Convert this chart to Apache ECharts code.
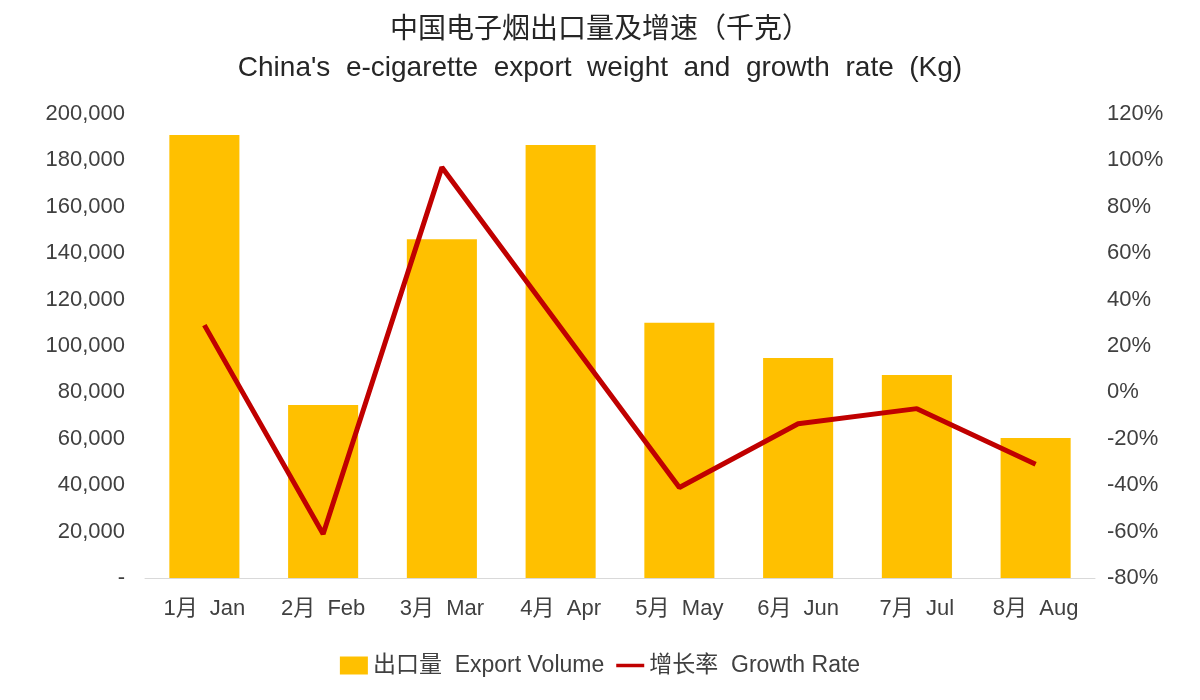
<!DOCTYPE html>
<html><head><meta charset="utf-8">
<script src="https://cdn.jsdelivr.net/npm/echarts@6/dist/echarts.min.js"></script>
<style>html,body{margin:0;background:#fff}#c{width:1200px;height:700px}</style>
</head><body><div id="c"></div>
<script>
const categories=['1月  Jan','2月  Feb','3月  Mar','4月  Apr','5月  May','6月  Jun','7月  Jul','8月  Aug'];
const exportVolume=[191000,74600,146000,186600,110000,94800,87500,60300];
const growthRate=[29,-61,97,28,-41,-13.5,-7,-31];
const font='"Liberation Sans","Noto Sans CJK SC",sans-serif';
const chart=echarts.init(document.getElementById('c'));
chart.setOption({
  animation:false,
  textStyle:{fontFamily:font},
  title:{text:'中国电子烟出口量及增速（千克）\nChina\'s  e-cigarette  export  weight  and  growth  rate  (Kg)',left:'center',top:6,
    textStyle:{fontSize:28,fontWeight:'normal',color:'#262626',lineHeight:38,fontFamily:font}},
  legend:{bottom:18,itemGap:12,textStyle:{fontSize:23,color:'#404040'},
    data:[{name:'出口量  Export Volume',icon:'rect'},{name:'增长率  Growth Rate',icon:'path://M0,0 L40,0 L40,5 L0,5 Z'}],itemWidth:28,itemHeight:18},
  grid:{left:145,right:105,top:114,bottom:122},
  xAxis:{type:'category',data:categories,axisTick:{show:false},axisLine:{lineStyle:{color:'#d9d9d9'}},
    axisLabel:{fontSize:22,color:'#404040',margin:20,interval:0}},
  yAxis:[{type:'value',min:0,max:200000,interval:20000,splitLine:{show:false},
    axisLabel:{fontSize:22,color:'#404040',margin:20,formatter:v=>v===0?'-':v.toLocaleString('en-US')}},
   {type:'value',min:-80,max:120,interval:20,splitLine:{show:false},
    axisLabel:{fontSize:22,color:'#404040',margin:12,formatter:'{value}%'}}],
  series:[{name:'出口量  Export Volume',type:'bar',data:exportVolume,barWidth:'59%',itemStyle:{color:'#FFC000'}},
   {name:'增长率  Growth Rate',type:'line',yAxisIndex:1,data:growthRate,symbol:'none',lineStyle:{color:'#C00000',width:5},itemStyle:{color:'#C00000'}}]
});
</script></body></html>
